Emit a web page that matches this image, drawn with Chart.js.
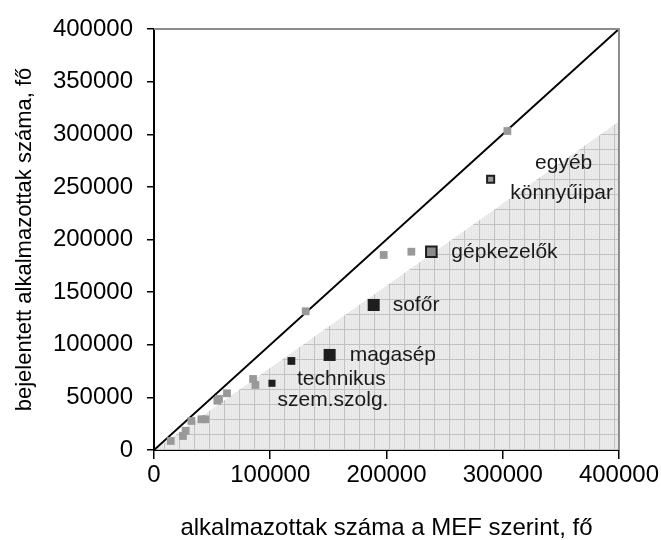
<!DOCTYPE html>
<html>
<head>
<meta charset="utf-8">
<script src="https://cdn.jsdelivr.net/npm/chart.js@4.4.1/dist/chart.umd.min.js"></script>
<style>
  html, body { margin: 0; padding: 0; background: #fff; }
  #wrap { width: 661px; height: 540px; position: relative; }
</style>
</head>
<body>
<div id="wrap"><canvas id="chart"></canvas></div>
<script>
// kisebb foglalkozások (szürke pontok)
const otherX = [14400, 24900, 27200, 32200, 40800, 44200, 54500, 55900, 62800, 85200, 87200, 130500, 197600, 221400, 304000];
const otherY = [8600, 13300, 18300, 27600, 29200, 29200, 46800, 48500, 53900, 67500, 61800, 131800, 185300, 188400, 303100];

// megnevezett foglalkozások
const namedLabels = ['szem.szolg.', 'technikus', 'magasép', 'sofőr', 'gépkezelők', 'egyéb könnyűipar'];
const namedX = [101500, 118200, 151100, 189000, 238600, 289600];
const namedY = [63400, 84600, 90300, 137800, 188400, 257200];

// átló és a satírozott terület felső éle
const diagX = [0, 400000];
const diagY = [0, 400000];
const shadeX = [0, 400000];
const shadeY = [0, 312000];

const xTicks = [0, 100000, 200000, 300000, 400000];
const yTicks = [0, 50000, 100000, 150000, 200000, 250000, 300000, 350000, 400000];

const FONT = 'Liberation Sans, Arial, sans-serif';

// marker looks per named point
const markStyle = {
    'szem.szolg.':      { r: 5,   bg: '#1e1e1e', bd: '#1e1e1e', bw: 0 },
    'technikus':        { r: 5.5, bg: '#1e1e1e', bd: '#1e1e1e', bw: 0 },
    'magasép':          { r: 8.5, bg: '#1e1e1e', bd: '#1e1e1e', bw: 0 },
    'sofőr':            { r: 8.5, bg: '#1e1e1e', bd: '#1e1e1e', bw: 0 },
    'gépkezelők':       { r: 7.5, bg: '#8a8a8a', bd: '#1e1e1e', bw: 2 },
    'egyéb könnyűipar': { r: 5,   bg: '#9a9a9a', bd: '#1e1e1e', bw: 2 }
};

// label text lines with pixel offsets from their point
const labelLines = {
    'szem.szolg.':      [{ t: 'szem.szolg.', dx: 61, dy: 17, align: 'center' }],
    'technikus':        [{ t: 'technikus', dx: 50, dy: 18, align: 'center' }],
    'magasép':          [{ t: 'magasép', dx: 20, dy: 0, align: 'left' }],
    'sofőr':            [{ t: 'sofőr', dx: 19, dy: 0, align: 'left' }],
    'gépkezelők':       [{ t: 'gépkezelők', dx: 20, dy: 0, align: 'left' }],
    'egyéb könnyűipar': [{ t: 'egyéb', dx: 73, dy: -16, align: 'center' },
                         { t: 'könnyűipar', dx: 71, dy: 14, align: 'center' }]
};

function makePattern() {
    const c = document.createElement('canvas');
    c.width = 15; c.height = 15;
    const g = c.getContext('2d');
    g.fillStyle = '#ececec';
    g.fillRect(0, 0, 15, 15);
    g.fillStyle = '#e0e0e0';
    for (let i = 0; i < 15; i += 2) {
        for (let j = (i / 2) % 2; j < 15; j += 2) g.fillRect(i, j, 1, 1);
    }
    g.fillStyle = '#c2c2c2';
    g.fillRect(14, 0, 1, 15);
    g.fillRect(0, 14, 15, 1);
    return g.createPattern(c, 'repeat');
}

const pointLabels = {
    id: 'pointLabels',
    afterDatasetsDraw(chart) {
        const { ctx, scales: { x, y } } = chart;
        ctx.save();
        ctx.font = '21px ' + FONT;
        ctx.fillStyle = '#1a1a1a';
        ctx.textBaseline = 'middle';
        namedLabels.forEach((name, i) => {
            const px = x.getPixelForValue(namedX[i]);
            const py = y.getPixelForValue(namedY[i]);
            labelLines[name].forEach(l => {
                ctx.textAlign = l.align;
                ctx.fillText(l.t, px + l.dx, py + l.dy);
            });
        });
        ctx.restore();
    }
};

const frame = {
    id: 'frame',
    afterDatasetsDraw(chart) {
        const { ctx, chartArea: a } = chart;
        ctx.save();
        ctx.strokeStyle = '#8c8c8c';
        ctx.lineWidth = 2;
        ctx.beginPath();
        ctx.moveTo(a.left, a.top);
        ctx.lineTo(a.right, a.top);
        ctx.lineTo(a.right, a.bottom);
        ctx.stroke();
        ctx.restore();
    }
};

const toPts = (xs, ys) => xs.map((v, i) => ({ x: v, y: ys[i] }));
const styleOf = ctx => markStyle[namedLabels[ctx.dataIndex]];

new Chart(document.getElementById('chart'), {
    type: 'scatter',
    data: {
        datasets: [
            {
                label: 'named',
                data: toPts(namedX, namedY),
                pointStyle: 'rect',
                pointRadius: c => styleOf(c).r,
                backgroundColor: c => styleOf(c).bg,
                borderColor: c => styleOf(c).bd,
                borderWidth: c => styleOf(c).bw,
                order: 0
            },
            {
                label: 'other',
                data: toPts(otherX, otherY),
                pointStyle: 'rect',
                pointRadius: 5.5,
                backgroundColor: '#999999',
                borderWidth: 0,
                order: 1
            },
            {
                label: 'diag',
                data: toPts(diagX, diagY),
                showLine: true,
                borderColor: '#000',
                borderWidth: 2,
                pointRadius: 0,
                order: 2
            },
            {
                label: 'shade',
                data: toPts(shadeX, shadeY),
                showLine: true,
                fill: 'origin',
                backgroundColor: makePattern(),
                borderWidth: 0,
                borderColor: 'rgba(0,0,0,0)',
                pointRadius: 0,
                order: 3
            }
        ]
    },
    options: {
        responsive: true,
        maintainAspectRatio: false,
        animation: false,
        layout: { padding: { top: 29, right: 42, bottom: 0, left: 0 } },
        plugins: {
            legend: { display: false },
            tooltip: { enabled: false }
        },
        scales: {
            x: {
                type: 'linear',
                min: 0,
                max: 400000,
                z: 1,
                afterBuildTicks: s => { s.ticks = xTicks.map(v => ({ value: v })); },
                afterFit: s => { s.height = 90; },
                ticks: {
                    callback: v => String(v),
                    color: '#000',
                    font: { family: FONT, size: 24 },
                    padding: 2,
                    maxRotation: 0,
                    autoSkip: false
                },
                grid: { drawOnChartArea: false, drawTicks: true, tickLength: 9, color: '#000', lineWidth: 1.5 },
                border: { color: '#000', width: 2 },
                title: {
                    display: true,
                    text: 'alkalmazottak száma a MEF szerint, fő',
                    color: '#000',
                    font: { family: FONT, size: 24, lineHeight: 1 },
                    padding: { top: 0, bottom: 0 }
                }
            },
            y: {
                type: 'linear',
                min: 0,
                max: 400000,
                z: 1,
                afterBuildTicks: s => { s.ticks = yTicks.map(v => ({ value: v })); },
                afterFit: s => { s.width = 154; },
                ticks: {
                    callback: v => String(v),
                    color: '#000',
                    font: { family: FONT, size: 24 },
                    padding: 14,
                    autoSkip: false
                },
                grid: { drawOnChartArea: false, drawTicks: true, tickLength: 7, color: '#000', lineWidth: 1.5 },
                border: { color: '#000', width: 2 },
                title: {
                    display: true,
                    text: 'bejelentett alkalmazottak száma, fő',
                    color: '#000',
                    font: { family: FONT, size: 22, lineHeight: 1.2 },
                    padding: { top: 12, bottom: 0 }
                }
            }
        }
    },
    plugins: [pointLabels, frame]
});
</script>
</body>
</html>
